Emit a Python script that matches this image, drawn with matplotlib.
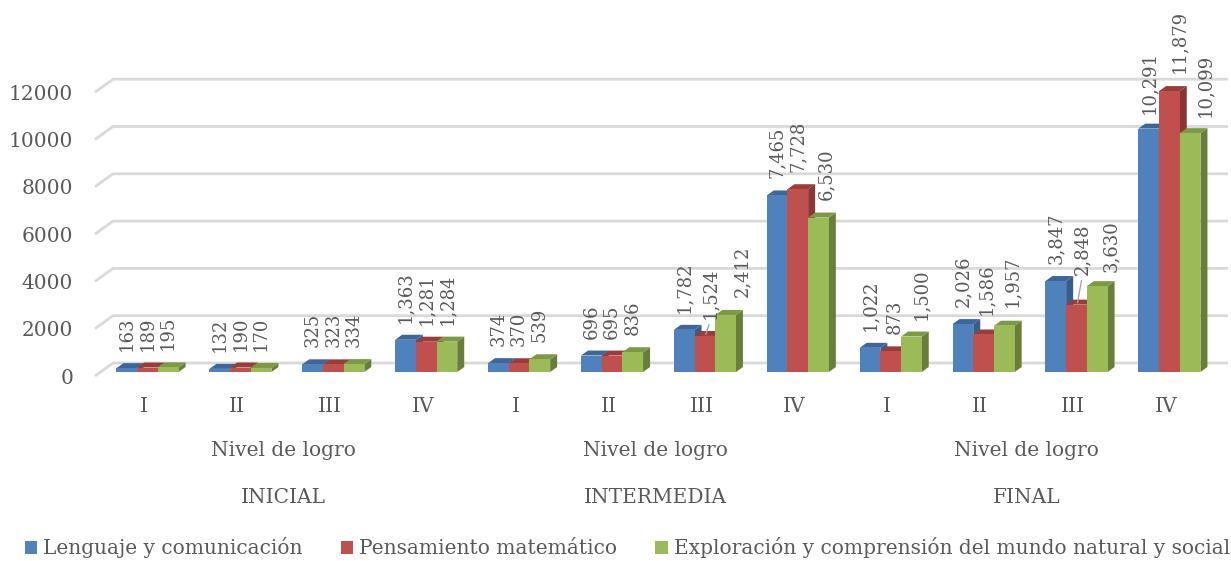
import matplotlib
matplotlib.use("Agg")
import matplotlib.pyplot as plt
from matplotlib.patches import Polygon, Patch

# ---------------- data ----------------
levels = ["I", "II", "III", "IV"] * 3
groups = ["INICIAL", "INTERMEDIA", "FINAL"]
group_title = "Nivel de logro"
series_names = ["Lenguaje y comunicación", "Pensamiento matemático",
                "Exploración y comprensión del mundo natural y social"]
lenguaje = [163, 132, 325, 1363, 374, 696, 1782, 7465, 1022, 2026, 3847, 10291]
pensamiento = [189, 190, 323, 1281, 370, 695, 1524, 7728, 873, 1586, 2848, 11879]
exploracion = [195, 170, 334, 1284, 539, 836, 2412, 6530, 1500, 1957, 3630, 10099]
yticks = [0, 2000, 4000, 6000, 8000, 10000, 12000]

# label nudges (pixels: right, up) as placed in the original, (series, category)
label_nudge = {(1, 6): (5, 0), (1, 10): (6, 13), (2, 6): (17, 1), (2, 7): (8, 1),
               (2, 8): (10, 0), (1, 8): (4, 0), (1, 9): (3, 2), (2, 9): (8, 2),
               (2, 10): (14, -3), (1, 11): (10, 1), (2, 11): (15, -1), (0, 11): (0, -2)}
leader = [(1, 6), (1, 10)]

# ---------------- style ----------------
front_cols = ["#4F81BD", "#C0504D", "#9BBB59"]
top_cols = ["#3D679C", "#9A3C3A", "#7C9A44"]
side_cols = ["#385D8A", "#8A3634", "#687F3B"]
text_col = "#595959"
grid_col = "#D9D9D9"
FONT = "DejaVu Serif"
FS = 14.5
FS_LAB = 13

W, H, DPI = 1231, 561, 100
fig = plt.figure(figsize=(W / DPI, H / DPI), dpi=DPI)
ax = fig.add_axes([0, 0, 1, 1])

px_per_cat = 92.9
x0_px = 147.5
base_px = 372.0
px_per_val = 0.02365
ax.set_xlim(-x0_px / px_per_cat, (W - x0_px) / px_per_cat)
ax.set_ylim((base_px - H) / px_per_val, base_px / px_per_val)
ax.axis("off")

def dx(px):
    return px / px_per_cat

def dy(px):
    return px / px_per_val

# ---------------- gridlines (back wall) ----------------
x_front = dx(95 - x0_px)
x_back = dx(113 - x0_px)
x_right = dx(1228 - x0_px)
for v in yticks:
    ax.plot([x_front, x_back, x_right], [v - dy(4), v + dy(9), v + dy(9)],
            color=grid_col, lw=2, solid_capstyle="butt", zorder=1)
    ax.text(dx(73 - x0_px), v - dy(6), f"{v}", ha="right", va="center",
            fontsize=FS, color=text_col, family=FONT)

# ---------------- 3D bars ----------------
bw = dx(20.7)
ddx, ddy = dx(7), dy(5)
series = [lenguaje, pensamiento, exploracion]
for i in range(len(levels)):
    for s, vals in enumerate(series):
        v = vals[i]
        xc = i + (s - 1) * bw
        xl, xr = xc - bw / 2, xc + bw / 2
        z = 2 + s * 0.01
        side = Polygon([(xr, 0), (xr + ddx, ddy), (xr + ddx, v + ddy), (xr, v)],
                       closed=True, fc=side_cols[s], ec="none", zorder=z)
        top = Polygon([(xl, v), (xl + ddx, v + ddy), (xr + ddx, v + ddy), (xr, v)],
                      closed=True, fc=top_cols[s], ec="none", zorder=z)
        front = Polygon([(xl, 0), (xr, 0), (xr, v), (xl, v)],
                        closed=True, fc=front_cols[s], ec="none", zorder=z + 0.001)
        for p in (side, top, front):
            ax.add_patch(p)
        nx, ny = label_nudge.get((s, i), (0, 0))
        lx, ly = xc + dx(nx), v + dy(17 + ny)
        ax.text(lx, ly, f"{v:,}", rotation=90, ha="center", va="bottom",
                fontsize=FS_LAB, color=text_col, family=FONT, zorder=5)
        if (s, i) in leader:
            ax.plot([xc + dx(1), lx - dx(1)], [v + dy(2), ly - dy(6)],
                    color="#A6A6A6", lw=1, zorder=6)

# ---------------- category labels ----------------
shift = dx(-3.5)
for i, lab in enumerate(levels):
    ax.text(i + shift, dy(-35), lab, ha="center", va="center",
            fontsize=FS, color=text_col, family=FONT)
for g, name in enumerate(groups):
    xc = 4 * g + 1.5 + shift
    ax.text(xc, dy(-79), group_title, ha="center", va="center",
            fontsize=FS, color=text_col, family=FONT)
    ax.text(xc, dy(-125), name, ha="center", va="center",
            fontsize=FS, color=text_col, family=FONT)

# ---------------- legend ----------------
handles = [Patch(fc=c, ec="none") for c in front_cols]
fig.legend(handles, series_names, loc="center", ncol=3,
           bbox_to_anchor=(627.5 / W, 1 - 548 / H), frameon=False,
           handlelength=0.6, handleheight=0.6, handletextpad=0.3,
           columnspacing=1.9, borderpad=0, borderaxespad=0,
           prop={"family": FONT, "size": FS}, labelcolor=text_col)

fig.savefig("out.png", dpi=DPI)
